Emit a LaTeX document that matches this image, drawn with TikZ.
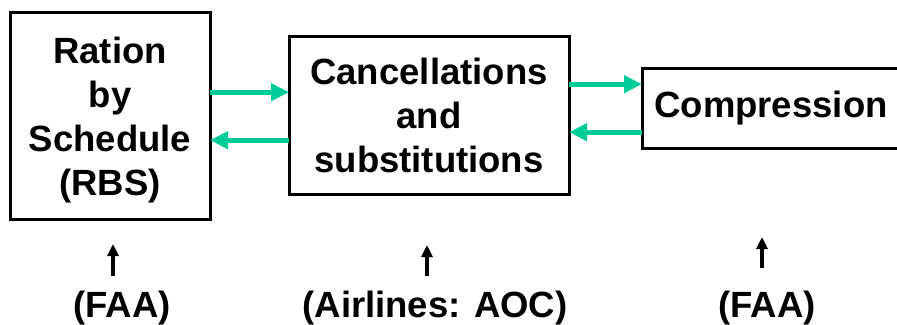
\documentclass[tikz,border=0pt]{standalone}
\usepackage{fontspec}
\setmainfont{Liberation Sans}
\usetikzlibrary{arrows.meta}
\definecolor{flowgreen}{RGB}{0,204,153}
\begin{document}
\begin{tikzpicture}[x=1pt,y=-1pt,
  box/.style={draw=black, line width=3pt, inner sep=0pt, outer sep=0pt,
    align=center, text depth=0pt,
    font=\bfseries\fontsize{36.5}{44}\selectfont},
  flow/.style={draw=flowgreen, line width=5pt,
    -{Triangle[length=18pt,width=17pt]}},
  source/.style={draw=black, line width=3.5pt,
    -{Triangle[length=12pt,width=11pt]}},
  who/.style={anchor=base, inner sep=0pt,
    font=\bfseries\fontsize{36.5}{44}\selectfont}]
\useasboundingbox (0,0) rectangle (897,324);
\clip (0,0) rectangle (897,324);

% process boxes
\node[box, minimum width=200pt, minimum height=207.5pt] (rbs) at (110,116.2)
  {Ration\\by\\Schedule\\(RBS)};
\node[box, minimum width=280pt, minimum height=158pt] (canc) at (429,115.4)
  {Cancellations\\and\\substitutions};
\node[box, minimum width=258pt, minimum height=80.3pt, text depth=7.7pt]
  (comp) at (771,108.2) {Compression};

% exchange arrows between neighbouring boxes
\coordinate (a1) at ([yshift=24pt]rbs.east);
\coordinate (a2) at ([yshift=-24pt]rbs.east);
\coordinate (b1) at ([yshift=24pt]comp.west);
\coordinate (b2) at ([yshift=-24pt]comp.west);
\draw[flow] (a1) -- (a1 -| canc.west);
\draw[flow] (a2 -| canc.west) -- (a2);
\draw[flow] (b1 -| canc.east) -- (b1);
\draw[flow] (b2) -- (b2 -| canc.east);

% responsible parties
\node[who] (faa1) at (122,317) {(FAA)};
\node[who] (aoc)  at (435,317) {(Airlines: AOC)};
\node[who] (faa2) at (767,317) {(FAA)};

\coordinate (s1) at (113,276); \coordinate (t1) at (113,244);
\coordinate (s2) at (427,276); \coordinate (t2) at (427,245);
\coordinate (s3) at (762,268); \coordinate (t3) at (762,237);
\draw[source] (s1) -- (t1);
\draw[source] (s2) -- (t2);
\draw[source] (s3) -- (t3);
\end{tikzpicture}
\end{document}
